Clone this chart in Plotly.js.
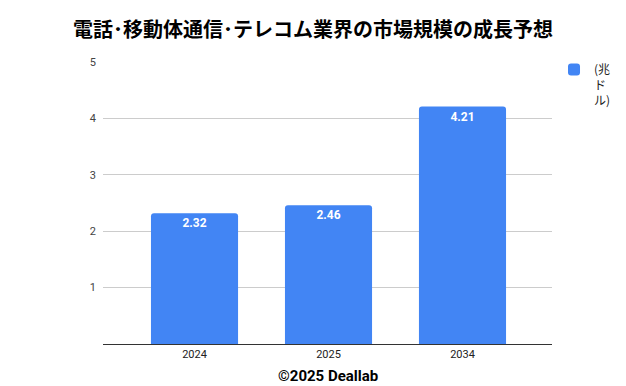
<!DOCTYPE html>
<html><head><meta charset="utf-8">
<script src="https://cdn.plot.ly/plotly-3.0.1.min.js"></script>
<style>body{margin:0;background:#fff}#c{width:626px;height:386px}</style>
</head><body><div id="c"></div>
<script>
const categories = ['2024', '2025', '2034'];
const values = [2.32, 2.46, 4.21];
const seriesName = '(兆<br>ド<br>ル)';
const yTicks = [0, 1, 2, 3, 4, 5];
const yTickLabels = ['', '1', '2', '3', '4', '5'];

const trace = {
  type: 'bar', x: categories, y: values, name: seriesName,
  marker: {color: '#4285F4', cornerradius: 3},
  width: 0.65,
  text: values.map(v => v.toFixed(2)), textposition: 'inside', insidetextanchor: 'end',
  textfont: {color: '#fff', size: 12, family: 'Roboto, Arial, sans-serif', weight: 'bold'},
  cliponaxis: false, showlegend: true
};
const layout = {
  width: 626, height: 386, paper_bgcolor: '#fff', plot_bgcolor: '#fff',
  margin: {l: 103, r: 74, t: 62, b: 42},
  title: {text: '<b>電話･移動体通信･テレコム業界の市場規模の成長予想</b>', x: 0.5, xanchor: 'center', y: 0.922, yanchor: 'middle',
    font: {family: '"Noto Sans CJK JP", sans-serif', size: 20, color: '#000'}},
  xaxis: {type: 'category', range: [-0.683, 2.668], showgrid: false, showline: true, linecolor: '#333', linewidth: 1,
    ticks: '', tickfont: {family: 'Roboto, Arial, sans-serif', size: 11, color: '#222'}, fixedrange: true},
  yaxis: {range: [0, 5], tickvals: yTicks, ticktext: yTickLabels, gridcolor: '#ccc', gridwidth: 1, zeroline: false,
    showline: false, ticks: '', ticklabelstandoff: 6, tickfont: {family: 'Roboto, Arial, sans-serif', size: 11, color: '#444'}},
  legend: {xref: 'container', yref: 'container', x: 0.885, xanchor: 'left', y: 0.857, yanchor: 'top', valign: 'top',
    font: {family: '"Noto Sans CJK JP", sans-serif', size: 12, color: '#222'},
    itemwidth: 30, tracegroupgap: 0},
  annotations: [{text: '<b>©2025 Deallab</b>', xref: 'paper', yref: 'paper', x: 0.5, y: 0, yshift: -32, xanchor: 'center', yanchor: 'middle',
    showarrow: false, font: {family: 'Roboto, Arial, sans-serif', size: 15, color: '#000'}}]
};
Plotly.newPlot('c', [trace], layout, {displayModeBar: false, staticPlot: true});
</script></body></html>
